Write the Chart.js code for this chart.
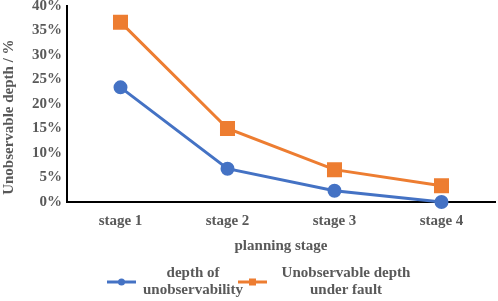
<!DOCTYPE html>
<html>
<head>
<meta charset="utf-8">
<script src="https://cdn.jsdelivr.net/npm/chart.js@4/dist/chart.umd.min.js"></script>
<style>
  html, body { margin: 0; padding: 0; background: #fff; }
  #wrap { width: 498px; height: 301px; }
</style>
</head>
<body>
<div id="wrap"><canvas id="chart"></canvas></div>
<script>
var stages = ["stage 1", "stage 2", "stage 3", "stage 4"]
var depthOfUnobs = [0.234, 0.068, 0.023, 0.0]
var depthUnderFault = [0.367, 0.15, 0.066, 0.033]
var yTicks = [0, 0.05, 0.1, 0.15, 0.2, 0.25, 0.3, 0.35, 0.4]

var blue = "#4472C4"
var orange = "#ED7D31"
var textGray = "#595959"
var fontFam = "'Liberation Serif', serif"

// legend with two-line labels, drawn by hand
var legendItems = [
  { lines: ["depth of", "unobservability"], color: blue, style: "circle", x: 107, textX: 193 },
  { lines: ["Unobservable depth", "under fault"], color: orange, style: "rect", x: 238, textX: 346 }
]
var twoLineLegend = {
  id: "twoLineLegend",
  afterDraw: function(chart){
    var ctx = chart.ctx
    ctx.save()
    var y = 282
    legendItems.forEach(function(item){
      ctx.strokeStyle = item.color
      ctx.fillStyle = item.color
      ctx.lineWidth = 3
      ctx.beginPath()
      ctx.moveTo(item.x, y)
      ctx.lineTo(item.x + 29, y)
      ctx.stroke()
      if(item.style == "circle"){
        ctx.beginPath()
        ctx.arc(item.x + 14.5, y, 3.5, 0, Math.PI*2)
        ctx.fill()
      } else {
        ctx.fillRect(item.x + 11, y - 3.5, 7, 7)
      }
      ctx.fillStyle = textGray
      ctx.font = "bold 15px " + fontFam
      ctx.textAlign = "center"
      ctx.textBaseline = "middle"
      ctx.fillText(item.lines[0], item.textX, 273)
      ctx.fillText(item.lines[1], item.textX, 290)
    })
    ctx.restore()
  }
}

var tickFont = { family: fontFam, size: 15, weight: "bold" }

var ctx = document.getElementById("chart").getContext("2d")
var chart = new Chart(ctx, {
  type: "line",
  data: {
    labels: stages,
    datasets: [
      {
        label: "depth of unobservability",
        data: depthOfUnobs,
        borderColor: blue,
        backgroundColor: blue,
        borderWidth: 3,
        pointStyle: "circle",
        pointRadius: 5.5,
        pointHoverRadius: 5.5,
        tension: 0,
        clip: false
      },
      {
        label: "Unobservable depth under fault",
        data: depthUnderFault,
        borderColor: orange,
        backgroundColor: orange,
        borderWidth: 3,
        pointStyle: "rect",
        pointRadius: 8.5,
        pointHoverRadius: 8.5,
        tension: 0,
        clip: false
      }
    ]
  },
  options: {
    responsive: true,
    maintainAspectRatio: false,
    animation: false,
    events: [],
    layout: { autoPadding: false, padding: { top: 6, right: 3, bottom: 46, left: 0 } },
    plugins: {
      legend: { display: false },
      tooltip: { enabled: false }
    },
    scales: {
      x: {
        offset: true,
        afterFit: function(axis){
          axis.height = 53
          axis.paddingLeft = 0
          axis.paddingRight = 0
        },
        grid: { display: false, drawTicks: false },
        border: { display: true, color: "#000", width: 2 },
        ticks: { color: textGray, font: tickFont, padding: 10 },
        title: { display: true, text: "planning stage", color: textGray,
                 font: tickFont, padding: { top: 0, bottom: 0 } }
      },
      y: {
        min: 0,
        max: 0.4,
        afterBuildTicks: function(axis){
          axis.ticks = yTicks.map(function(v){ return { value: v } })
        },
        afterFit: function(axis){
          axis.width = 67
          axis.paddingTop = 0
          axis.paddingBottom = 0
        },
        grid: { display: false, drawTicks: false },
        border: { display: true, color: "#000", width: 2 },
        ticks: {
          color: textGray,
          font: tickFont,
          padding: 5,
          autoSkip: false,
          callback: function(v){ return Math.round(v*100) + "%" }
        },
        title: { display: true, text: "Unobservable depth / %" + "       ", color: textGray,
                 font: tickFont, padding: { top: 0, bottom: 4 } }
      }
    }
  },
  plugins: [twoLineLegend]
})
</script>
</body>
</html>
